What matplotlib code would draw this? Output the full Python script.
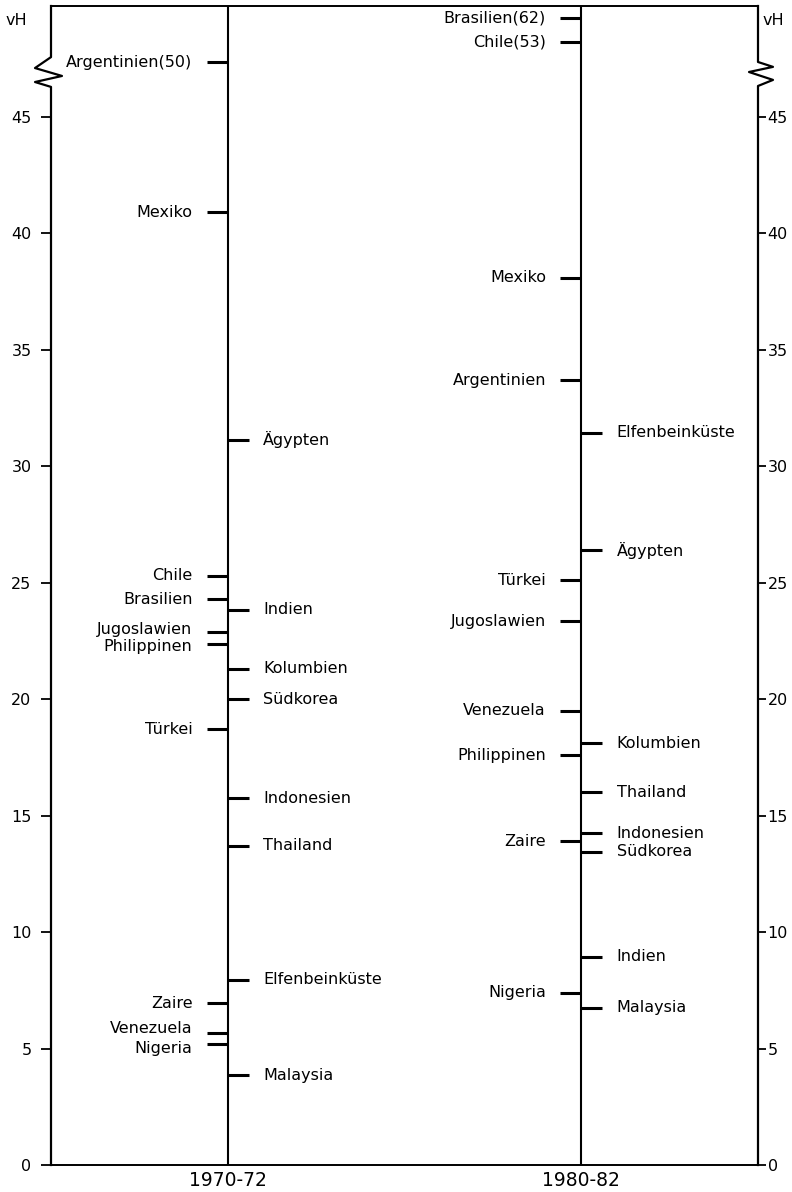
import matplotlib
matplotlib.use("Agg")
import matplotlib.pyplot as plt
import matplotlib.transforms as mtransforms

# Anteil in vH, 1970-72 und 1980-82 (Werte ueber dem Bruch: Lage im Bild, Wert im Text)
periods = ["1970-72", "1980-82"]

p1_left_names = ["Argentinien(50)", "Mexiko", "Chile", "Brasilien", "Jugoslawien",
                 "Philippinen", "Türkei", "Zaire", "Venezuela", "Nigeria"]
p1_left_vals = [47.35, 40.9, 25.3, 24.3, 22.9, 22.35, 18.7, 6.95, 5.65, 5.2]

p1_right_names = ["Ägypten", "Indien", "Kolumbien", "Südkorea", "Indonesien",
                  "Thailand", "Elfenbeinküste", "Malaysia"]
p1_right_vals = [31.15, 23.85, 21.3, 20.0, 15.75, 13.7, 7.95, 3.85]

p2_left_names = ["Brasilien(62)", "Chile(53)", "Mexiko", "Argentinien", "Türkei",
                 "Jugoslawien", "Venezuela", "Philippinen", "Zaire", "Nigeria"]
p2_left_vals = [49.25, 48.2, 38.1, 33.7, 25.1, 23.35, 19.5, 17.6, 13.9, 7.4]

p2_right_names = ["Elfenbeinküste", "Ägypten", "Kolumbien", "Thailand", "Indonesien",
                  "Südkorea", "Indien", "Malaysia"]
p2_right_vals = [31.45, 26.4, 18.1, 16.0, 14.25, 13.45, 8.95, 6.75]

yticks = [0, 5, 10, 15, 20, 25, 30, 35, 40, 45]

# kleine Verschiebungen der Beschriftung (in vH) wo Marken eng liegen
label_shift = {("1970-72", "Venezuela"): 0.2, ("1970-72", "Nigeria"): -0.2,
               ("1970-72", "Jugoslawien"): 0.1, ("1970-72", "Philippinen"): -0.1}

plt.rcParams['font.family'] = ['DejaVu Sans']

fig = plt.figure(figsize=(7.92, 11.92), dpi=100)
ax = fig.add_axes([51 / 792, 27 / 1192, 707 / 792, 1159 / 1192])
ymax = 1159 / 23.29
ax.set_xlim(0, 1)
ax.set_ylim(0, ymax)

xpos = [0.25, 0.75]
tick_len = 0.03
gap = 0.05
fs = 11.5

for sp in ["left", "right"]:
    ax.spines[sp].set_visible(False)
ax.spines["top"].set_linewidth(1.4)
ax.spines["bottom"].set_linewidth(1.4)

# Achsen mit Bruch
tr = mtransforms.blended_transform_factory(ax.transAxes, ax.transData)
w = 707.0
ax.plot([0, 0, -16 / w, 11 / w, -16 / w, 0, 0],
        [0, 46.29, 46.5, 46.76, 47.1, 47.57, ymax],
        color="black", lw=1.6, transform=tr, clip_on=False)
ax.plot([1, 1, 1 + 15 / w, 1 - 9 / w, 1 + 15 / w, 1, 1],
        [0, 46.33, 46.59, 46.93, 47.15, 47.36, ymax],
        color="black", lw=1.6, transform=tr, clip_on=False)

# Zeitraeume
for x in xpos:
    ax.plot([x, x], [0, ymax], color="black", lw=1.5)

groups = [
    (periods[0], xpos[0], p1_left_names, p1_left_vals, "left"),
    (periods[0], xpos[0], p1_right_names, p1_right_vals, "right"),
    (periods[1], xpos[1], p2_left_names, p2_left_vals, "left"),
    (periods[1], xpos[1], p2_right_names, p2_right_vals, "right"),
]
for per, x, names, vals, side in groups:
    for name, v in zip(names, vals):
        dy = label_shift.get((per, name), 0)
        if side == "left":
            ax.plot([x - tick_len, x], [v, v], color="black", lw=2.2, solid_capstyle="butt")
            ax.text(x - gap, v + dy, name, ha="right", va="center", fontsize=fs)
        else:
            ax.plot([x, x + tick_len], [v, v], color="black", lw=2.2, solid_capstyle="butt")
            ax.text(x + gap, v + dy, name, ha="left", va="center", fontsize=fs)

ax.set_yticks(yticks)
ax.set_yticklabels([str(t) for t in yticks])
ax.tick_params(axis="y", left=True, right=False, labelleft=True, labelright=False,
               direction="out", length=7, width=1.3, labelsize=11.5, pad=7)

ax2 = ax.twinx()
ax2.set_ylim(0, ymax)
for sp in ax2.spines.values():
    sp.set_visible(False)
ax2.set_yticks(yticks)
ax2.set_yticklabels([str(t) for t in yticks])
ax2.tick_params(axis="y", direction="out", length=6, width=1.3, labelsize=11.5, pad=1)

ax.set_xticks(xpos)
ax.set_xticklabels(periods)
ax.tick_params(axis="x", length=0, labelsize=13.5, pad=4)

ax.text(-0.065, ymax - 0.3, "vH", transform=tr, ha="left", va="top", fontsize=11.5)
ax.text(1.007, ymax - 0.3, "vH", transform=tr, ha="left", va="top", fontsize=11.5)

fig.savefig("out.png", dpi=100)
